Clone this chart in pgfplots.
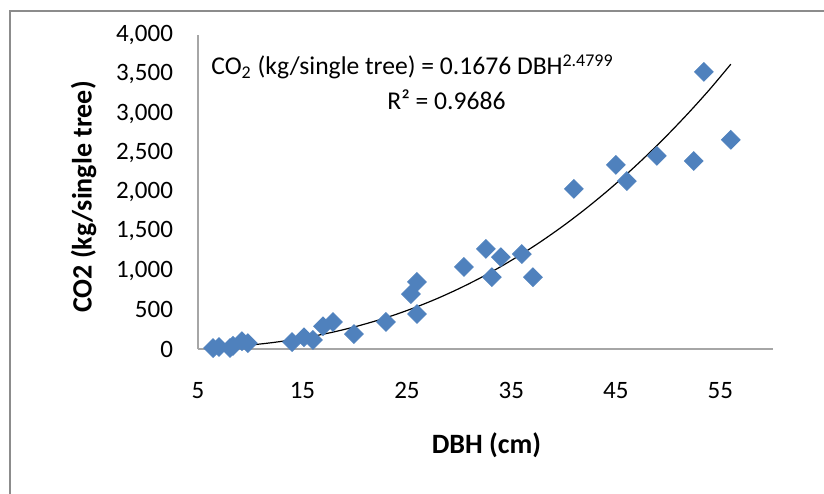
\documentclass[border=0pt]{standalone}
\usepackage{fontspec}
\setmainfont{Carlito}
\usepackage{pgfplots}
\pgfplotsset{compat=1.18}

\definecolor{xlblue}{RGB}{79,129,189}
\definecolor{axgray}{RGB}{166,166,166}
\definecolor{framegray}{RGB}{140,140,140}

\begin{document}
\begin{tikzpicture}
% page = 824x493 px, 1 px = 0.5pt, axis origin at px (198,349)
\path[use as bounding box] (-99pt,-72pt) rectangle (313pt,174.5pt);
\draw[framegray, line width=1pt] (-94pt,-80pt) -- (-94pt,169pt) -- (320pt,169pt);

\begin{axis}[
    at={(0,0)}, anchor=south west,
    scale only axis,
    width=287.3pt, height=157pt,
    xmin=5, xmax=60,
    ymin=0, ymax=4000,
    xtick={5,15,25,35,45,55},
    ytick={0,500,...,4000},
    axis x line=bottom, axis y line=left,
    axis line style={axgray, line width=0.8pt, -},
    major tick length=0pt,
    tick label style={font=\fontsize{12.5}{14}\selectfont, black},
    /pgf/number format/assume math mode=true,
    /pgf/number format/.cd, 1000 sep={,}, /pgfplots/.cd,
    xticklabel style={yshift=-13pt},
    yticklabel style={xshift=-9pt},
    xlabel={DBH (cm)},
    ylabel={CO2 (kg/single tree)},
    every axis x label/.style={at={(axis description cs:0.502,-0.306)}, anchor=center,
        font=\fontsize{14}{16}\selectfont\bfseries},
    every axis y label/.style={at={(axis description cs:-0.199,0.484)}, anchor=center, rotate=90,
        font=\fontsize{14}{16}\selectfont\bfseries},
    clip=false,
]

% power trend line, CO2 = 0.1676 DBH^2.4799
\addplot[black, line width=0.6pt, smooth] coordinates {
    (6.44,17.0) (8,29.1) (10,50.6) (12,79.6) (14,116.6) (16,162.4)
    (18,217.5) (20,282.3) (22,357.6) (24,443.0) (26,540.2) (28,649.1)
    (30,770.3) (32,904.0) (34,1050.8) (36,1210.9) (38,1384.9) (40,1572.6)
    (42,1775.0) (44,1992.3) (46,2224.2) (48,2471.9) (50,2735.2) (52,3014.5)
    (54,3310.6) (56,3628)
};

% measured trees
\addplot[only marks, mark=square*, mark size=3.3pt,
    mark options={rotate=45, fill=xlblue, draw=xlblue}] coordinates {
    (6.44,12) (7.01,25) (8.06,12) (8.35,40) (9.21,100) (9.78,75)
    (14.0,88) (15.14,150) (16.0,115) (16.96,290) (17.92,345) (19.93,190)
    (22.99,345) (25.38,700) (25.96,855) (25.96,445) (30.45,1045)
    (32.56,1275) (33.13,915) (33.99,1170) (36.0,1210) (37.06,915)
    (40.98,2040) (45.0,2345) (46.05,2140) (48.92,2460) (52.46,2395)
    (53.42,3530) (56.0,2665)
};

\node[font=\fontsize{12.8}{14}\selectfont] at (axis cs:25.53,3593)
    {CO\textsubscript{2} (kg/single tree) = 0.1676 DBH\textsuperscript{2.4799}};
\node[font=\fontsize{12.8}{14}\selectfont] at (axis cs:28.78,3172) {R² = 0.9686};

\end{axis}
\end{tikzpicture}
\end{document}
